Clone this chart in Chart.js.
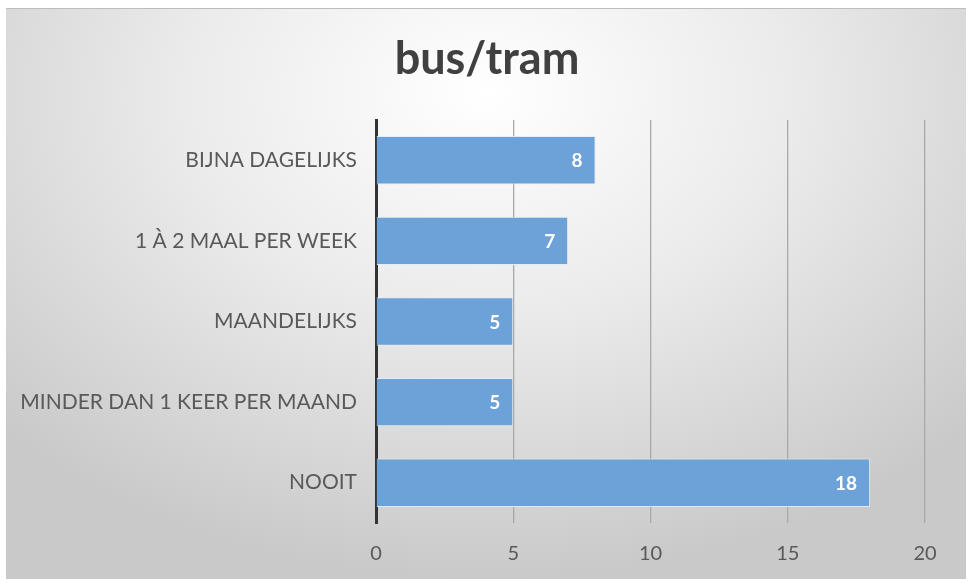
<!DOCTYPE html>
<html>
<head>
<meta charset="utf-8">
<script src="https://cdn.jsdelivr.net/npm/chart.js@4.4.0/dist/chart.umd.min.js"></script>
<style>
  body { margin: 0; background: #fff; }
  #wrap {
    position: absolute; left: 0; top: 0; width: 969px; height: 583px;
  }
  #bg {
    position: absolute; left: 6px; top: 8px; width: 960px; height: 570px;
    border-top: 1px solid #bdbdbd;
    background: radial-gradient(ellipse 70% 85% at 50% 15%, #ffffff 0%, #ebebeb 45%, #c9c9c9 100%);
  }
  #title {
    position: absolute; left: 287px; top: 30px; width: 400px;
    text-align: center;
    font: bold 45px Lato;
    line-height: 54px;
    color: #404040;
  }
  canvas { position: absolute; left: 0; top: 0; }
</style>
</head>
<body>
<div id="wrap">
  <div id="bg"></div>
  <canvas id="myChart" width="969" height="583"></canvas>
  <div id="title"></div>
</div>
<script>
const chartTitle = "bus/tram";
const categories = [
  "BIJNA DAGELIJKS",
  "1 À 2 MAAL PER WEEK",
  "MAANDELIJKS",
  "MINDER DAN 1 KEER PER MAAND",
  "NOOIT"
];
const counts = [8, 7, 5, 5, 18];
const xTicks = [0, 5, 10, 15, 20];

document.getElementById("title").innerText = chartTitle;

// draws the value inside the end of each bar
const valueLabels = {
  id: "valueLabels",
  afterDatasetsDraw(chart) {
    const ctx = chart.ctx;
    const meta = chart.getDatasetMeta(0);
    ctx.save();
    ctx.font = "bold 19px Lato";
    ctx.fillStyle = "#ffffff";
    ctx.textAlign = "right";
    ctx.textBaseline = "middle";
    meta.data.forEach((bar, i) => {
      ctx.fillText(String(counts[i]), bar.x - 13, bar.y + 1);
    });
    ctx.restore();
  }
};

const ctx = document.getElementById("myChart").getContext("2d");
const myChart = new Chart(ctx, {
  type: "bar",
  data: {
    labels: categories,
    datasets: [
      {
        data: counts,
        backgroundColor: "#6ca2d8",
        borderColor: "rgba(225, 236, 248, 0.9)",
        borderWidth: 1,
        barPercentage: 0.6,
        categoryPercentage: 1
      }
    ]
  },
  options: {
    indexAxis: "y",
    responsive: false,
    animation: false,
    layout: { padding: { left: 0, right: 44, top: 120, bottom: 0 } },
    plugins: {
      legend: { display: false },
      tooltip: { enabled: false },
      title: { display: false }
    },
    scales: {
      x: {
        min: 0,
        max: 20,
        afterBuildTicks(scale) {
          scale.ticks = xTicks.map((v) => ({ value: v }));
        },
        afterFit(scale) {
          scale.height = 60;
        },
        grid: { color: "#a9a9a9", lineWidth: 1.3, drawTicks: false },
        border: { display: false },
        ticks: {
          color: "#595959",
          padding: 19,
          font: { family: "Lato", size: 20 }
        }
      },
      y: {
        afterFit(scale) {
          scale.width = 376;
        },
        grid: { display: false, drawTicks: false },
        border: { display: true, color: "#333333", width: 3 },
        ticks: {
          color: "#595959",
          padding: 19,
          font: { family: "Lato", size: 21 }
        }
      }
    }
  },
  plugins: [valueLabels]
});
</script>
</body>
</html>
